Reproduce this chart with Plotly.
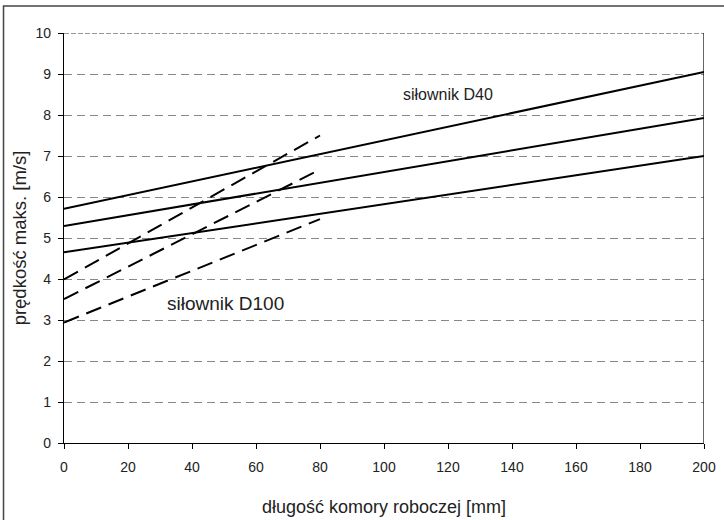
import plotly.graph_objects as go

# Solid lines (siłownik D40), x from 0 to 200 mm
x_solid = [0, 200]
d40_a = [5.71, 9.05]
d40_b = [5.29, 7.93]
d40_c = [4.65, 7.00]

# Dashed lines (siłownik D100), x from 0 to 80 mm
x_dash = [0, 80]
d100_a = [3.99, 7.50]
d100_b = [3.51, 6.67]
d100_c = [2.94, 5.46]

x_ticks = [0, 20, 40, 60, 80, 100, 120, 140, 160, 180, 200]
y_ticks = [0, 1, 2, 3, 4, 5, 6, 7, 8, 9, 10]

FONT = "Liberation Sans, Arial, sans-serif"

fig = go.Figure()
for ys in (d40_a, d40_b, d40_c):
    fig.add_trace(go.Scatter(x=x_solid, y=ys, mode="lines",
                             line=dict(color="black", width=2),
                             showlegend=False, hoverinfo="skip"))
for ys in (d100_a, d100_b, d100_c):
    fig.add_trace(go.Scatter(x=x_dash, y=ys, mode="lines",
                             line=dict(color="black", width=2, dash="16px,8px"),
                             showlegend=False, hoverinfo="skip"))

fig.add_annotation(x=120, y=8.5, text="siłownik D40", showarrow=False,
                   font=dict(family=FONT, size=16, color="#222"))
fig.add_annotation(x=50.5, y=3.4, text="siłownik D100", showarrow=False,
                   font=dict(family=FONT, size=19, color="#222"))

# top dashed line at y=10 and right border
fig.add_shape(type="line", xref="x", yref="y", x0=0, x1=200, y0=10, y1=10,
              line=dict(color="#333", width=1.2, dash="5px,2px"))
fig.add_shape(type="line", xref="x", yref="y", x0=200, x1=200, y0=0, y1=10,
              line=dict(color="black", width=1.2))
# outer frame
fig.add_shape(type="rect", xref="paper", yref="paper",
              x0=-0.0945, x1=1.2, y0=-0.35, y1=1.066,
              line=dict(color="#444", width=1.5), layer="below")

fig.update_layout(
    width=724, height=520,
    margin=dict(l=64, r=20, t=33, b=77),
    paper_bgcolor="white", plot_bgcolor="white",
    font=dict(family=FONT, size=14, color="#222"),
    xaxis=dict(range=[0, 200], tickvals=x_ticks, ticktext=[str(v) for v in x_ticks],
               showgrid=False, zeroline=False, showline=True, linecolor="black",
               linewidth=1.2, ticks="outside", ticklen=5, tickcolor="black",
               tickfont=dict(size=14), ticklabelstandoff=6, automargin=False,
               title=dict(text="długość komory roboczej [mm]", font=dict(size=18), standoff=26)),
    yaxis=dict(range=[0, 10], tickvals=y_ticks, ticktext=[str(v) for v in y_ticks],
               showgrid=True, gridcolor="#888", gridwidth=1, griddash="8px,5px",
               zeroline=False, showline=True, linecolor="black", linewidth=1.2,
               ticks="outside", ticklen=5, tickcolor="black",
               tickfont=dict(size=14), ticklabelstandoff=4, automargin=False,
               title=dict(text="prędkość maks. [m/s]", font=dict(size=18.5), standoff=4)),
)

fig.write_html("out.html")
